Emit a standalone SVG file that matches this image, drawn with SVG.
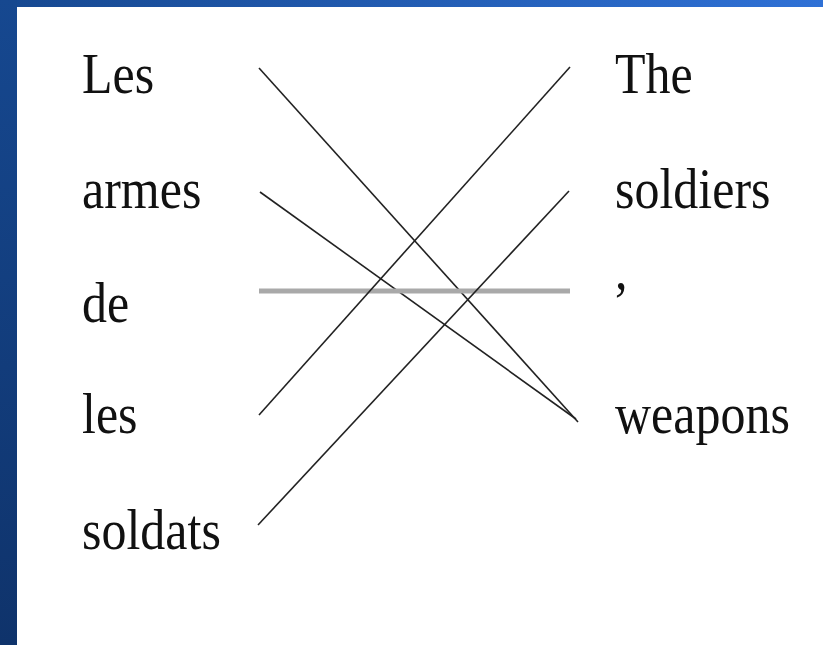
<svg xmlns="http://www.w3.org/2000/svg" width="823" height="645" viewBox="0 0 823 645">
<style>
.w{font-family:"Liberation Serif","Times New Roman",serif;font-size:50px;fill:#111}
.ln{stroke:#222;stroke-width:1.6;fill:none}
.gr{stroke:#a9a9a9;stroke-width:5;fill:none}
</style>
<defs>
<linearGradient id="top" x1="0" y1="0" x2="1" y2="0">
<stop offset="0" stop-color="#164890"/>
<stop offset="1" stop-color="#2f71d6"/>
</linearGradient>
<linearGradient id="left" x1="0" y1="0" x2="0" y2="1">
<stop offset="0" stop-color="#164890"/>
<stop offset="1" stop-color="#0f336b"/>
</linearGradient>
</defs>
<rect x="0" y="0" width="823" height="645" fill="#ffffff"/>
<rect x="0" y="0" width="823" height="7" fill="url(#top)"/>
<rect x="0" y="0" width="17" height="645" fill="url(#left)"/>
<g id="connectors">
<line class="ln" x1="259" y1="68" x2="578" y2="422"/>
<line class="ln" x1="260" y1="192" x2="576" y2="419"/>
<line class="gr" x1="259" y1="291" x2="570" y2="291"/>
<line class="ln" x1="259" y1="415" x2="570" y2="67"/>
<line class="ln" x1="258" y1="525" x2="569" y2="191"/>
</g>
<g id="src-les"><text class="w" transform="translate(82,93) scale(1,1.12)">Les</text></g>
<g id="src-armes"><text class="w" transform="translate(82,208) scale(1,1.12)">armes</text></g>
<g id="src-de"><text class="w" transform="translate(82,322) scale(1,1.12)">de</text></g>
<g id="src-les2"><text class="w" transform="translate(82,433) scale(1,1.12)">les</text></g>
<g id="src-soldats"><text class="w" transform="translate(82,549) scale(1,1.12)">soldats</text></g>
<g id="tgt-the"><text class="w" transform="translate(615,93) scale(1,1.12)">The</text></g>
<g id="tgt-soldiers"><text class="w" transform="translate(615,208) scale(1,1.12)">soldiers</text></g>
<g id="tgt-comma"><text class="w" transform="translate(615,289) scale(1,1.12)">,</text></g>
<g id="tgt-weapons"><text class="w" transform="translate(615,433) scale(1,1.12)">weapons</text></g>
</svg>
